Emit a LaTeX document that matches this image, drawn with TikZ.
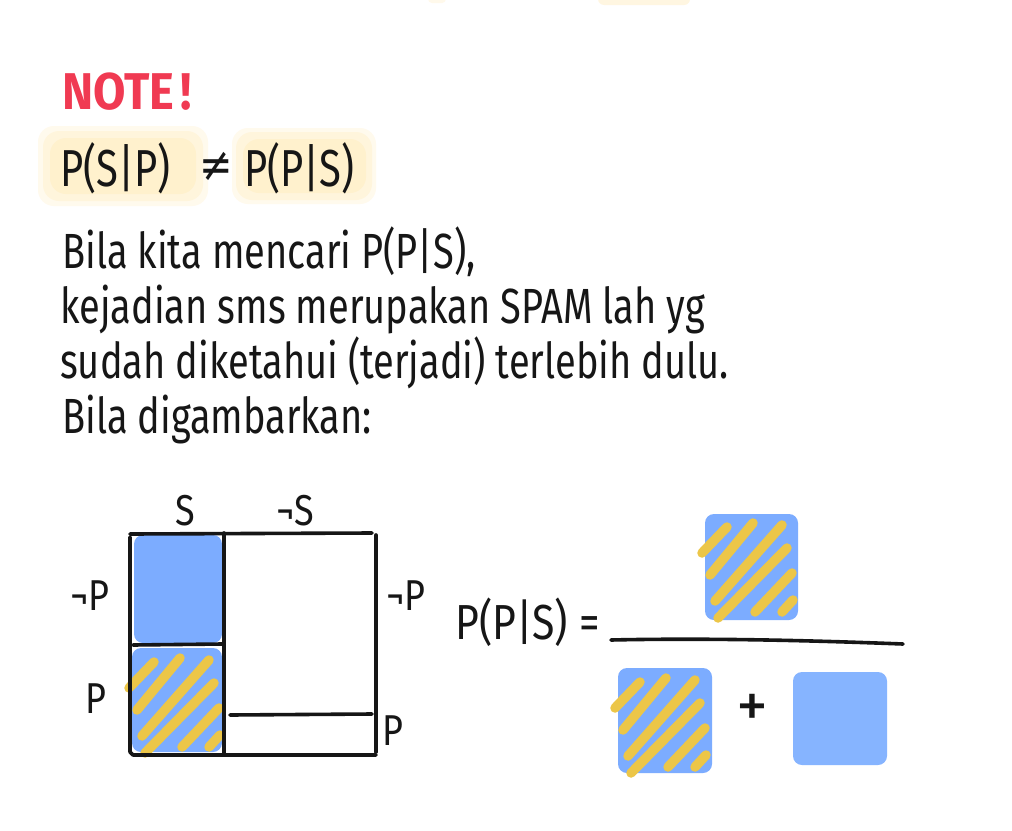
\documentclass[tikz,border=0pt]{standalone}
\usepackage{fontspec}
\setmainfont{Fira Sans}
\newfontfamily\symfont{DejaVu Sans}
\definecolor{ink}{RGB}{22,22,22}
\definecolor{notered}{RGB}{240,58,82}
\definecolor{hl}{RGB}{255,241,205}
\definecolor{boxblue}{RGB}{124,172,255}
\definecolor{plainblue}{RGB}{134,180,255}
\definecolor{stripeyel}{RGB}{236,198,72}
\newcommand\hatchlines[1]{%
  \begin{scope}[shift={(#1)}]
    \draw[stripe] (-1,40) -- (24,14);
    \draw[stripe] (7,62) -- (50,10);
    \draw[stripe] (12,88) -- (79,12);
    \draw[stripe] (15,105) -- (84,35);
    \draw[stripe] (52,99) -- (89,60);
    \draw[stripe] (79,99) -- (90,87);
  \end{scope}}
\newcommand\tall[2][1.3]{\scalebox{1}[#1]{#2}}
\begin{document}
\begin{tikzpicture}[x=1pt,y=-1pt,
  stripe/.style={stripeyel,line width=9.5pt,line cap=round},
  inkline/.style={ink,line width=3.6pt,line cap=round,line join=round},
  txt/.style={ink,anchor=base west,inner sep=0pt,font=\fontsize{38}{44}\selectfont},
  lbl/.style={ink,inner sep=0pt,font=\fontsize{36}{40}\selectfont},
  bluebox/.style={fill=boxblue,rounded corners=9pt,draw=none},
  plainbox/.style={fill=plainblue,rounded corners=9pt,draw=none},
  hlbox/.style={fill=hl,rounded corners=16pt,draw=none}]
\useasboundingbox (0,0) rectangle (1012,830);
\fill[white] (0,0) rectangle (1012,830);

% faint highlight remnant at top
\fill[hl,opacity=0.6,rounded corners=6pt] (598,-20) rectangle (690,5);
\fill[hl,opacity=0.4,rounded corners=4pt] (428,-20) rectangle (446,3);

% NOTE!
\node[notered,anchor=base west,inner sep=0pt,font=\fontsize{47}{50}\bfseries\selectfont] (note) at (62,109) {\tall[1.1]{NOTE\kern6pt!}};

% highlights (soft edges)
\fill[hlbox,opacity=0.35] (38,126) rectangle (208,206);
\fill[hlbox,opacity=0.5] (43,131) rectangle (203,201);
\fill[hlbox] (50,138) rectangle (196,194);
\fill[hlbox,opacity=0.35] (232,128) rectangle (376,204);
\fill[hlbox,opacity=0.5] (236,132) rectangle (372,200);
\fill[hlbox] (243,139) rectangle (366,193);

% P(S|P) != P(P|S)
\node[txt,font=\fontsize{40}{44}\selectfont] (psp) at (60,186) {\tall[1.3]{P(S|P)}};
\node[ink,inner sep=0pt,font=\symfont\fontsize{40}{44}\selectfont] (neq) at (216,167) {\tall[1.2]{≠}};
\node[txt,font=\fontsize{40}{44}\selectfont] (pps) at (244,186) {\tall[1.3]{P(P|S)}};

% paragraph
\node[txt] (l1) at (62,268) {\tall{Bila kita mencari P(P|S),}};
\node[txt] (l2) at (60,323) {\tall{kejadian sms merupakan SPAM lah yg}};
\node[txt] (l3) at (60,378) {\tall{sudah diketahui (terjadi) terlebih dulu.}};
\node[txt] (l4) at (62,433) {\tall{Bila digambarkan:}};

% diagram boxes
\fill[bluebox] (134,535) rectangle (222,643);
\fill[bluebox] (132,648) rectangle (222,752);
\hatchlines{130,648}

% diagram lines
\draw[inkline] (130,534) -- (372,533);
\draw[inkline] (130,537) -- (130,752) -- (133,755) -- (376,755);
\draw[inkline] (376,535) -- (376,752);
\draw[inkline] (224,533) -- (224,755);
\draw[inkline] (133,645) -- (222,644);
\draw[inkline] (230,715) -- (372,714);

% diagram labels
\node[lbl] (ls) at (185,511) {\tall[1.2]{S}};
\node[lbl] (lns) at (295,511) {\tall[1.2]{¬S}};
\node[lbl] (lnp1) at (90,596) {\tall[1.2]{¬P}};
\node[lbl] (lp1) at (96,699) {\tall[1.2]{P}};
\node[lbl] (lnp2) at (406,596) {\tall[1.2]{¬P}};
\node[lbl] (lp2) at (393,731) {\tall[1.2]{P}};

% formula
\node[txt,font=\fontsize{41}{46}\selectfont] (form) at (455,639) {\tall[1.2]{P(P|S) =}};
\fill[bluebox] (705,514) rectangle (798,620);
\hatchlines{703,513}
\draw[inkline] (611,640) .. controls (700,638) and (800,640) .. (903,644);
\fill[bluebox] (618,668) rectangle (712,773);
\hatchlines{616,668}
\node[ink,inner sep=0pt,font=\fontsize{64}{68}\selectfont] (plus) at (752,711) {+};
\fill[plainbox] (793,672) rectangle (887,765);
\end{tikzpicture}
\end{document}
